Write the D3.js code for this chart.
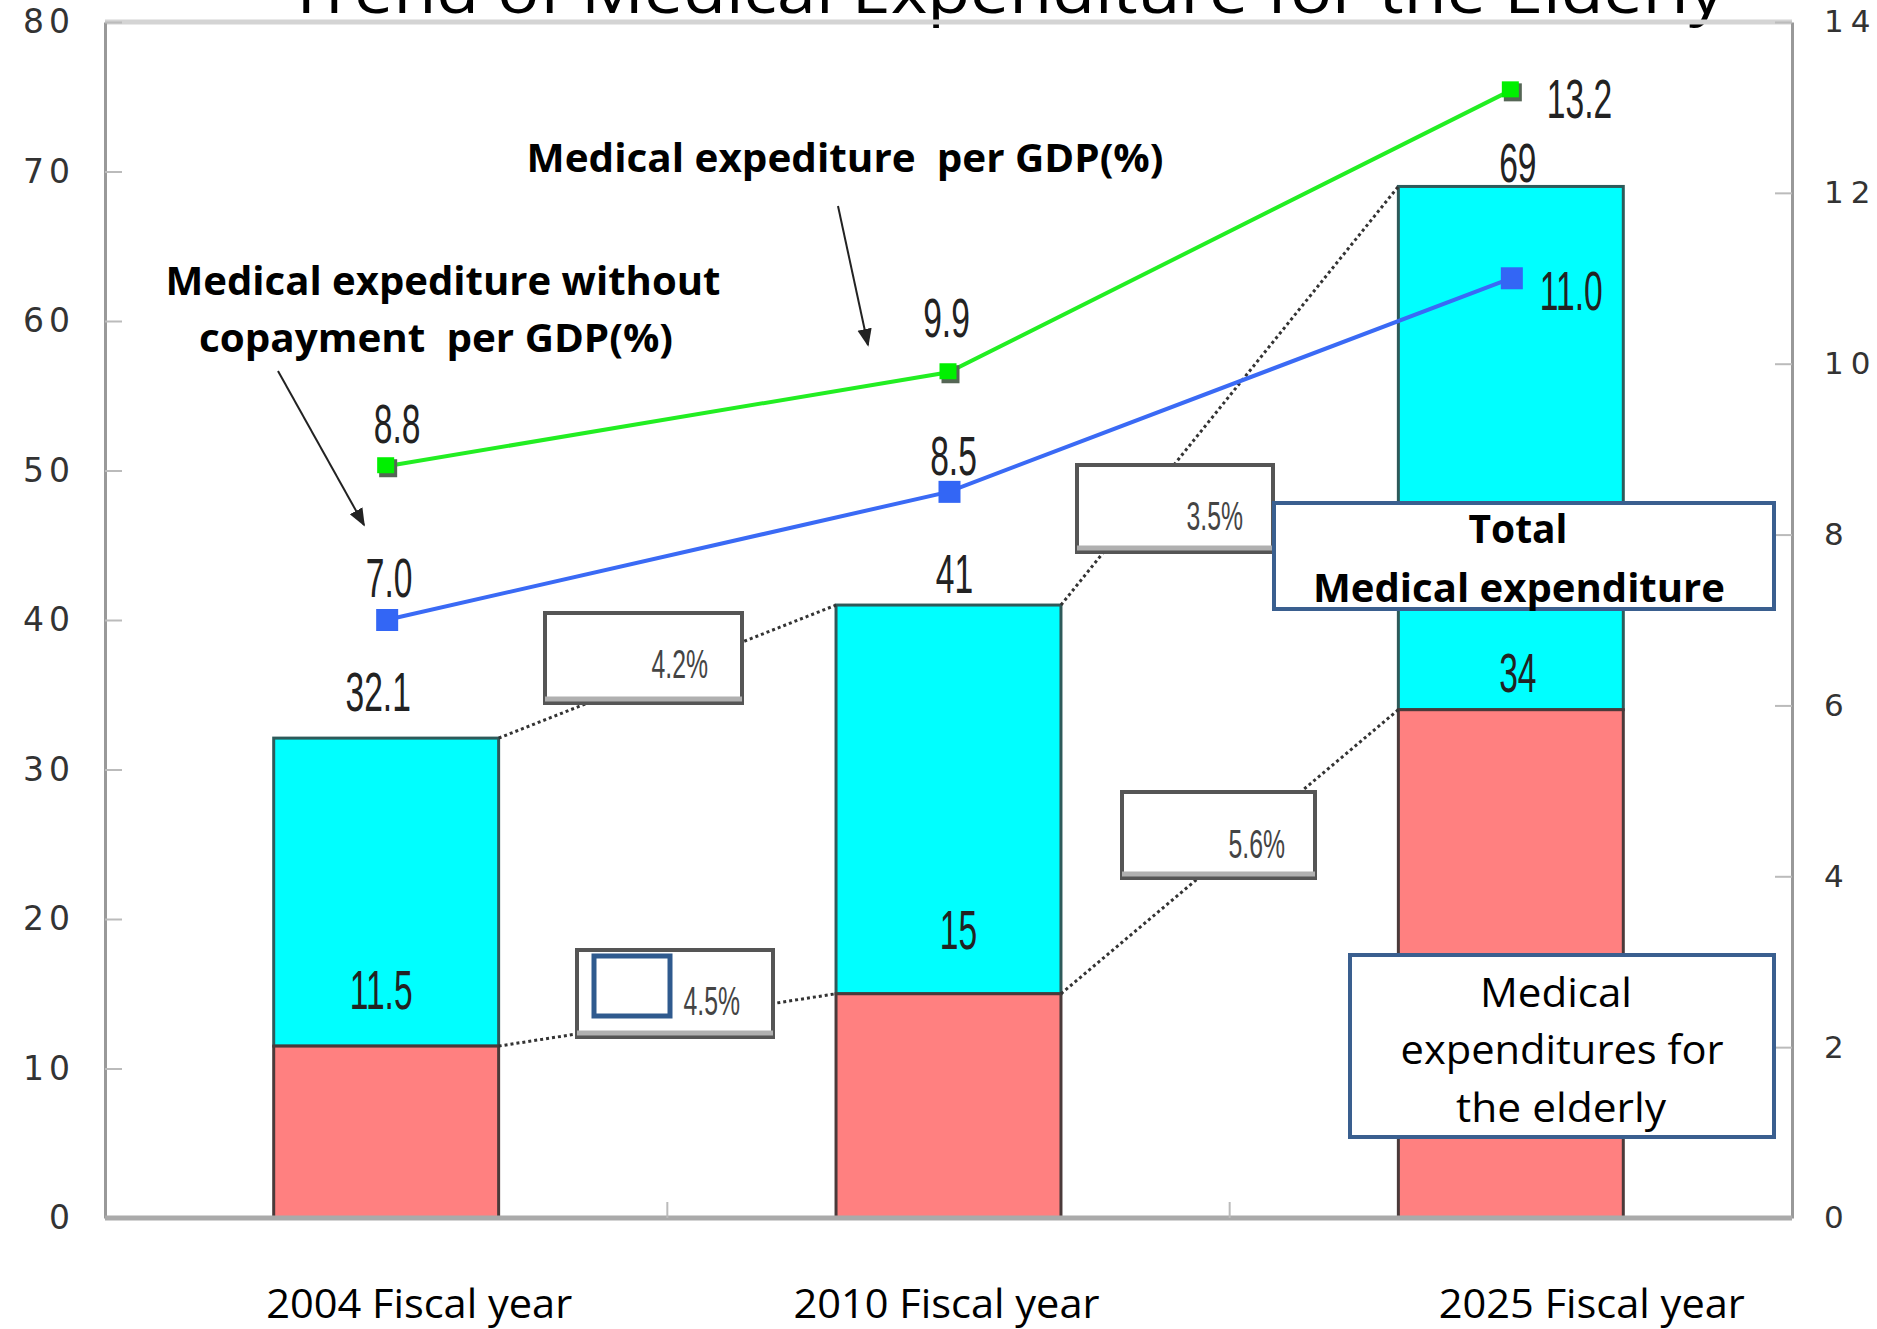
<!DOCTYPE html>
<html>
<head>
<meta charset="utf-8">
<script src="https://cdn.jsdelivr.net/npm/d3@7"></script>
<style>
  body { margin: 0; background: #fff; }
  svg { display: block; }
</style>
</head>
<body>
<div id="chart"></div>
<script>
// data
var categories = ["2004 Fiscal year", "2010 Fiscal year", "2025 Fiscal year"];
var totalExp = [32.1, 41, 69];
var elderlyExp = [11.5, 15, 34];
var gdpShare = [8.8, 9.9, 13.2];
var gdpShareNoCopay = [7.0, 8.5, 11.0];
var leftTicks = [0, 10, 20, 30, 40, 50, 60, 70, 80];
var rightTicks = [0, 2, 4, 6, 8, 10, 12, 14];
var growthLabels = ["4.2%", "4.5%", "3.5%", "5.6%"];

var width = 1877, height = 1329;
var plotL = 105, plotR = 1792, plotT = 22, plotB = 1218;

var svg = d3.select("#chart").append("svg")
    .attr("width", width)
    .attr("height", height);

svg.append("rect").attr("width", width).attr("height", height).attr("fill", "#fff");

var x = d3.scaleBand()
    .domain(categories)
    .range([plotL, plotR])
    .paddingInner(0.6)
    .paddingOuter(0.3);
var step = x.step();
var cx = function (c) { return x(c) + x.bandwidth() / 2; };

var yL = d3.scaleLinear().domain([0, 80]).range([plotB, plotT]);
var yR = d3.scaleLinear().domain([0, 14]).range([plotB, plotT]);

// title, mostly cut off by the top edge
svg.append("text")
    .attr("x", 287).attr("y", 13)
    .attr("textLength", 1437).attr("lengthAdjust", "spacingAndGlyphs")
    .style("font-family", "Open Sans, sans-serif")
    .style("font-size", "62px")
    .text("Trend of Medical Expenditure for the Elderly");

// frame
svg.append("line").attr("x1", plotL).attr("x2", plotR).attr("y1", plotT).attr("y2", plotT)
    .attr("stroke", "#d4d4d4").attr("stroke-width", 5);

// left axis
var axL = svg.append("g")
    .attr("transform", "translate(" + plotL + ",0)")
    .call(d3.axisLeft(yL).tickValues(leftTicks).tickSize(-17).tickSizeOuter(0).tickPadding(30));
axL.select(".domain").attr("stroke", "#999").attr("stroke-width", 3);
axL.selectAll(".tick line").attr("stroke", "#bbb").attr("stroke-width", 2);
axL.selectAll(".tick text")
    .style("font-family", "DejaVu Sans, sans-serif")
    .style("font-size", "33px")
    .style("letter-spacing", "5px")
    .attr("fill", "#333");

// right axis
var axR = svg.append("g")
    .attr("transform", "translate(" + plotR + ",0)")
    .call(d3.axisRight(yR).tickValues(rightTicks).tickSize(-17).tickSizeOuter(0).tickPadding(32));
axR.select(".domain").attr("stroke", "#999").attr("stroke-width", 3);
axR.selectAll(".tick line").attr("stroke", "#bbb").attr("stroke-width", 2);
axR.selectAll(".tick text")
    .style("font-family", "DejaVu Sans, sans-serif")
    .style("font-size", "31px")
    .style("letter-spacing", "7px")
    .attr("fill", "#333");

// bars
var bars = svg.append("g");
bars.selectAll(".total").data(categories).enter().append("rect")
    .attr("x", function (d) { return x(d); })
    .attr("width", x.bandwidth())
    .attr("y", function (d, i) { return yL(totalExp[i]); })
    .attr("height", function (d, i) { return yL(elderlyExp[i]) - yL(totalExp[i]); })
    .attr("fill", "#00ffff")
    .attr("stroke", "#2e5a5a").attr("stroke-width", 3);
bars.selectAll(".elder").data(categories).enter().append("rect")
    .attr("x", function (d) { return x(d); })
    .attr("width", x.bandwidth())
    .attr("y", function (d, i) { return yL(elderlyExp[i]); })
    .attr("height", function (d, i) { return yL(0) - yL(elderlyExp[i]); })
    .attr("fill", "#ff8080")
    .attr("stroke", "#4a3a3a").attr("stroke-width", 3);

// bottom axis line and category separators
svg.append("line").attr("x1", plotL).attr("x2", plotR).attr("y1", plotB).attr("y2", plotB)
    .attr("stroke", "#aaa").attr("stroke-width", 5);
categories.slice(1).forEach(function (c) {
    var bx = x(c) - (step - x.bandwidth()) / 2;
    svg.append("line").attr("x1", bx).attr("x2", bx).attr("y1", plotB).attr("y2", plotB - 16)
        .attr("stroke", "#bbb").attr("stroke-width", 2);
});

// dotted connectors between bar tops
var dots = svg.append("g");
[totalExp, elderlyExp].forEach(function (vals) {
    for (var i = 0; i < categories.length - 1; i++) {
        dots.append("line")
            .attr("x1", x(categories[i]) + x.bandwidth())
            .attr("y1", yL(vals[i]))
            .attr("x2", x(categories[i + 1]))
            .attr("y2", yL(vals[i + 1]))
            .attr("stroke", "#333").attr("stroke-width", 3)
            .attr("stroke-dasharray", "3,3");
    }
});

// growth rate boxes
var growthBoxes = [
    {x: 545, y: 613, w: 197, h: 90, tx: 708, ty: 678},
    {x: 577, y: 950, w: 196, h: 87, tx: 740, ty: 1015},
    {x: 1077, y: 465, w: 196, h: 87, tx: 1243, ty: 530},
    {x: 1122, y: 792, w: 193, h: 86, tx: 1285, ty: 858}
];
function condText(g, px, py, txt, size, sx, anchor) {
    return g.append("text")
        .attr("transform", "translate(" + px + "," + py + ") scale(" + sx + ",1)")
        .attr("text-anchor", anchor)
        .style("font-family", "Liberation Sans, Arial, sans-serif")
        .style("font-size", size + "px")
        .attr("fill", "#222")
        .text(txt);
}
var gb = svg.append("g");
growthBoxes.forEach(function (b, i) {
    gb.append("rect").attr("x", b.x).attr("y", b.y).attr("width", b.w).attr("height", b.h)
        .attr("fill", "#fff").attr("stroke", "#555").attr("stroke-width", 4);
    gb.append("line").attr("x1", b.x).attr("x2", b.x + b.w).attr("y1", b.y + b.h - 4).attr("y2", b.y + b.h - 4)
        .attr("stroke", "#b0b0b0").attr("stroke-width", 5);
    condText(gb, b.tx, b.ty, growthLabels[i], 40, 0.62, "end").attr("fill", "#444");
});
gb.append("rect").attr("x", 594).attr("y", 956).attr("width", 76).attr("height", 60)
    .attr("fill", "#fff").attr("stroke", "#2f5a8e").attr("stroke-width", 5);

// lines
var line = d3.line()
    .x(function (d) { return cx(d.c); })
    .y(function (d) { return yR(d.v); });
var greenPts = categories.map(function (c, i) { return {c: c, v: gdpShare[i]}; });
var bluePts = categories.map(function (c, i) { return {c: c, v: gdpShareNoCopay[i]}; });

svg.append("path").datum(greenPts).attr("d", line)
    .attr("fill", "none").attr("stroke", "#22ee22").attr("stroke-width", 4);
svg.append("path").datum(bluePts).attr("d", line)
    .attr("fill", "none").attr("stroke", "#3a6af5").attr("stroke-width", 4);

svg.selectAll(".gshadow").data(greenPts).enter().append("rect")
    .attr("x", function (d) { return cx(d.c) - 7; })
    .attr("y", function (d) { return yR(d.v) - 7; })
    .attr("width", 18).attr("height", 18).attr("fill", "#556655");
svg.selectAll(".gmark").data(greenPts).enter().append("rect")
    .attr("x", function (d) { return cx(d.c) - 9; })
    .attr("y", function (d) { return yR(d.v) - 9; })
    .attr("width", 17).attr("height", 16).attr("fill", "#00f000");
svg.selectAll(".bmark").data(bluePts).enter().append("rect")
    .attr("x", function (d) { return cx(d.c) - 10; })
    .attr("y", function (d) { return yR(d.v) - 11; })
    .attr("width", 22).attr("height", 22).attr("fill", "#3366f5");

// value labels
var labels = svg.append("g");
var totalOff = [[-8, -27], [6, -12], [7, -4]];
var elderOff = [[-5, -37], [10, -45], [7, -18]];
var greenOff = [[11, -23, "middle"], [-2, -35, "middle"], [36, 28, "start"]];
var blueOff = [[3, -23, "middle"], [5, -17, "middle"], [29, 32, "start"]];
categories.forEach(function (c, i) {
    condText(labels, cx(c) + totalOff[i][0], yL(totalExp[i]) + totalOff[i][1],
        String(totalExp[i]), 56, 0.6, "middle");
    condText(labels, cx(c) + elderOff[i][0], yL(elderlyExp[i]) + elderOff[i][1],
        String(elderlyExp[i]), 56, 0.6, "middle");
    condText(labels, cx(c) + greenOff[i][0], yR(gdpShare[i]) + greenOff[i][1],
        gdpShare[i].toFixed(1), 56, 0.6, greenOff[i][2]);
    condText(labels, cx(c) + blueOff[i][0], yR(gdpShareNoCopay[i]) + blueOff[i][1],
        gdpShareNoCopay[i].toFixed(1), 56, 0.6, blueOff[i][2]);
});

// category labels
var catOff = [33, -2, 81];
svg.selectAll(".cat").data(categories).enter().append("text")
    .attr("x", function (d, i) { return cx(d) + catOff[i]; })
    .attr("y", 1318)
    .attr("text-anchor", "middle")
    .attr("textLength", 306).attr("lengthAdjust", "spacingAndGlyphs")
    .style("font-family", "Open Sans, sans-serif")
    .style("font-size", "41px")
    .text(function (d) { return d; });

// annotations
svg.append("defs").append("marker")
    .attr("id", "arrow").attr("viewBox", "0 0 10 10")
    .attr("refX", 9).attr("refY", 5)
    .attr("markerWidth", 9).attr("markerHeight", 9)
    .attr("orient", "auto")
    .append("path").attr("d", "M0,1 L10,5 L0,9 Z").attr("fill", "#222");

function note(txt, px, py, len, bold) {
    return svg.append("text")
        .attr("x", px).attr("y", py)
        .attr("text-anchor", "middle")
        .attr("textLength", len).attr("lengthAdjust", "spacingAndGlyphs")
        .style("font-family", "Open Sans, sans-serif")
        .style("font-size", "40px")
        .style("font-weight", bold ? "bold" : "normal")
        .style("white-space", "pre")
        .attr("fill", "#000")
        .text(txt);
}

note("Medical expediture  per GDP(%)", 845, 172, 637, true);
svg.append("line").attr("x1", 838).attr("y1", 206).attr("x2", 868).attr("y2", 345)
    .attr("stroke", "#222").attr("stroke-width", 2).attr("marker-end", "url(#arrow)");

note("Medical expediture without", 443, 295, 555, true);
note("copayment  per GDP(%)", 436, 352, 474, true);
svg.append("line").attr("x1", 278).attr("y1", 371).attr("x2", 364).attr("y2", 525)
    .attr("stroke", "#222").attr("stroke-width", 2).attr("marker-end", "url(#arrow)");

svg.append("rect").attr("x", 1274).attr("y", 503).attr("width", 500).attr("height", 106)
    .attr("fill", "#fff").attr("stroke", "#3a5f8f").attr("stroke-width", 4);
note("Total", 1518, 543, 99, true);
note("Medical expenditure", 1519, 602, 412, true);

svg.append("rect").attr("x", 1350).attr("y", 955).attr("width", 424).attr("height", 182)
    .attr("fill", "#fff").attr("stroke", "#3a5f8f").attr("stroke-width", 4);
note("Medical", 1556, 1007, 152, false);
note("expenditures for", 1562, 1064, 323, false);
note("the elderly", 1561, 1122, 210, false);
</script>
</body>
</html>
